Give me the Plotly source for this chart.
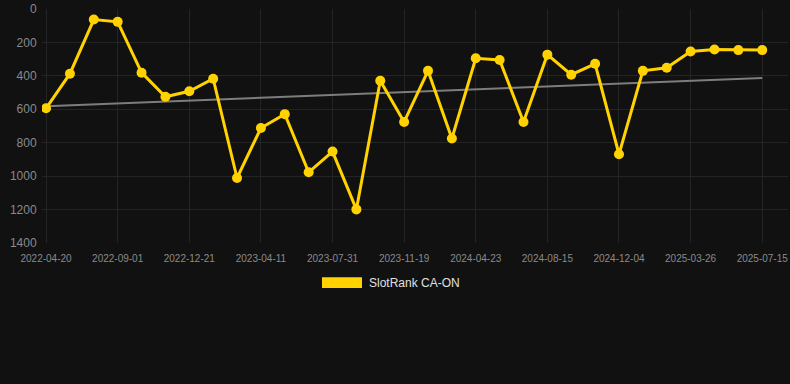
import numpy as np
import plotly.graph_objects as go

dates = [
    "2022-04-20", "2022-06-03", "2022-07-18", "2022-09-01", "2022-10-08", "2022-11-14",
    "2022-12-21", "2023-01-27", "2023-03-05", "2023-04-11", "2023-05-18", "2023-06-24",
    "2023-07-31", "2023-09-06", "2023-10-13", "2023-11-19", "2024-01-10", "2024-03-02",
    "2024-04-23", "2024-05-30", "2024-07-08", "2024-08-15", "2024-09-20", "2024-10-28",
    "2024-12-04", "2025-01-10", "2025-02-17", "2025-03-26", "2025-05-01", "2025-06-08",
    "2025-07-15",
]
ranks = [594, 387, 63, 77, 381, 525, 492, 417, 1011, 712, 629, 977, 853, 1199, 429,
         676, 370, 775, 295, 305, 676, 273, 393, 328, 869, 370, 352, 254, 242, 246, 246]
series_name = "SlotRank CA-ON"
y_ticks = [0, 200, 400, 600, 800, 1000, 1200, 1400]

idx = np.arange(len(ranks))
slope, intercept = np.polyfit(idx, ranks, 1)
trend = slope * idx + intercept

fig = go.Figure()
fig.add_trace(go.Scatter(
    x=dates, y=trend, mode="lines",
    line=dict(color="rgb(125,125,125)", width=2),
    hoverinfo="skip", showlegend=False,
))
fig.add_trace(go.Scatter(
    x=dates, y=ranks, mode="lines+markers", name=series_name,
    line=dict(color="#FFD200", width=3),
    marker=dict(color="#FFD200", size=10),
    showlegend=False,
))

n = len(dates)
fig.update_layout(
    width=790, height=384,
    paper_bgcolor="#111111", plot_bgcolor="#111111",
    margin=dict(l=42, r=2, t=6, b=141),
    font=dict(family="Liberation Sans, Arial, sans-serif", color="#8a8a8a"),
    xaxis=dict(
        type="category",
        range=[-0.17, n - 1 + 1.08],
        tickmode="array",
        tickvals=dates[::3],
        ticktext=dates[::3],
        showgrid=True, gridcolor="#242424", gridwidth=1,
        tickfont=dict(size=10, color="#8a8a8a"),
        zeroline=False, showline=False,
        ticks="outside", ticklen=6, tickcolor="rgba(0,0,0,0)",
    ),
    yaxis=dict(
        range=[1400, 0],
        tickvals=y_ticks,
        ticklabeloverflow="allow",
        showgrid=True, gridcolor="#242424", gridwidth=1,
        tickfont=dict(size=12, color="#8a8a8a"),
        zeroline=False, showline=False,
        ticks="outside", ticklen=2, tickcolor="rgba(0,0,0,0)",
    ),
    showlegend=False,
)

# legend swatch + label
fig.add_shape(type="rect", xref="paper", yref="paper",
              x0=(322 - 42) / 746, x1=(362 - 42) / 746,
              y0=(243.3 - 289) / 237.3, y1=(243.3 - 278) / 237.3,
              fillcolor="#FFD200", line=dict(width=0))
fig.add_annotation(xref="paper", yref="paper",
                   x=(367 - 42) / 746, y=(243.3 - 284) / 237.3,
                   xanchor="left", yanchor="middle", showarrow=False,
                   text=series_name, font=dict(size=12, color="#e0e0e0"))

fig.write_html(
    "out.html",
    config={"displayModeBar": False},
    post_script="document.body.style.margin='0';document.body.style.background='#111111';",
)
